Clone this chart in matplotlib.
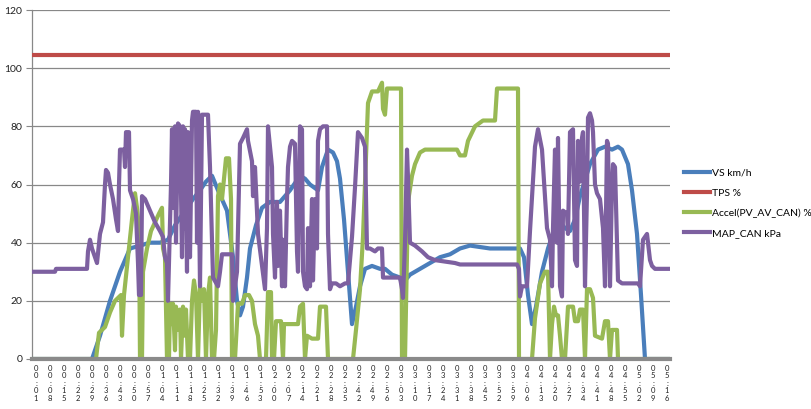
import matplotlib
matplotlib.use("Agg")
import matplotlib.pyplot as plt
import numpy as np

plt.rcParams["font.family"] = ["Lato", "DejaVu Sans"]

# ---------------- data: sample index and value per series ----------------
vs_t = [0, 60, 61, 68, 78, 88, 98, 108, 118, 128,
        136, 143, 153, 161, 168, 174, 180, 186, 195, 201,
        205, 208, 211, 215, 218, 224, 230, 238, 248, 258,
        268, 273, 278, 286, 290, 296, 301, 305, 308, 312,
        316, 320, 324, 328, 333, 340, 348, 353, 360, 368,
        370, 373, 378, 388, 398, 408, 418, 428, 438, 458,
        488, 492, 496, 500, 504, 510, 516, 523, 528, 533,
        538, 543, 548, 558, 566, 573, 580, 586, 590, 596,
        600, 605, 609, 613, 638]
vs_val = [0, 0, 1, 8, 20, 30, 38, 39, 40, 40,
          41, 46, 51, 55, 58, 61, 63, 58, 51, 35,
          20, 15, 18, 28, 38, 46, 52, 54, 54, 58,
          63, 62, 60, 58, 66, 72, 71, 68, 62, 48,
          30, 12, 18, 25, 31, 32, 31, 31, 29, 28,
          26, 27, 29, 31, 33, 35, 36, 38, 39, 38,
          38, 35, 22, 12, 18, 30, 38, 45, 47, 45,
          44, 48, 56, 67, 72, 73, 72, 73, 72, 67,
          58, 43, 22, 0, 0]

tps_t = [0, 638]
tps_val = [104.5, 104.5]

acc_t = [0, 64, 67, 70, 73, 78, 83, 89, 90, 92,
         96, 100, 103, 105, 107, 108, 110, 111, 115, 119,
         123, 127, 130, 131, 133, 135, 137, 138, 140, 141,
         143, 144, 146, 148, 149, 151, 153, 154, 156, 158,
         160, 162, 164, 166, 168, 170, 172, 174, 176, 178,
         180, 182, 184, 186, 188, 190, 192, 194, 197, 199,
         200, 203, 206, 210, 213, 217, 220, 223, 226, 228,
         234, 236, 239, 240, 242, 244, 249, 251, 252, 258,
         266, 268, 271, 273, 275, 280, 286, 288, 294, 296,
         321, 324, 328, 331, 334, 336, 340, 346, 350, 351,
         353, 355, 363, 369, 370, 373, 376, 380, 383, 388,
         393, 418, 425, 428, 433, 436, 443, 451, 463, 465,
         486, 487, 500, 503, 508, 513, 516, 518, 520, 522,
         524, 526, 528, 530, 533, 536, 541, 543, 546, 548,
         551, 553, 555, 558, 561, 563, 570, 573, 576, 578,
         580, 585, 586, 638]
acc_val = [0, 0, 9, 10, 11, 16, 20, 22, 8, 22,
           35, 48, 57, 52, 45, 0, 0, 30, 38, 44,
           47, 50, 52, 38, 35, 0, 0, 19, 12, 19,
           3, 18, 10, 17, 0, 18, 8, 17, 0, 0,
           20, 27, 22, 0, 25, 20, 24, 0, 22, 28,
           0, 0, 10, 56, 60, 55, 62, 69, 69, 55,
           0, 0, 19, 19, 22, 22, 20, 12, 8, 0,
           0, 23, 23, 0, 0, 13, 13, 0, 12, 12,
           12, 18, 19, 0, 8, 7, 7, 18, 18, 0,
           0, 10, 24, 42, 70, 88, 92, 92, 95, 86,
           84, 93, 93, 93, 0, 0, 54, 63, 67, 71,
           72, 72, 72, 70, 70, 75, 80, 82, 82, 93,
           93, 0, 0, 14, 26, 30, 30, 0, 12, 18,
           15, 15, 8, 0, 0, 18, 18, 13, 13, 17,
           17, 0, 24, 24, 21, 8, 7, 13, 13, 0,
           10, 10, 0, 0]

map_t = [0, 23, 24, 55, 56, 58, 60, 63, 65, 68,
         71, 73, 74, 76, 78, 81, 84, 86, 87, 88,
         92, 93, 94, 97, 98, 101, 104, 106, 107, 109,
         110, 113, 118, 123, 128, 131, 133, 135, 136, 139,
         140, 141, 143, 144, 146, 148, 150, 151, 152, 153,
         155, 156, 158, 160, 161, 164, 165, 166, 168, 170,
         173, 176, 178, 181, 186, 188, 190, 200, 201, 205,
         208, 211, 215, 216, 220, 221, 223, 226, 230, 233,
         235, 236, 240, 241, 243, 245, 246, 248, 250, 251,
         253, 255, 256, 258, 260, 263, 265, 266, 268, 270,
         271, 273, 275, 276, 278, 280, 281, 283, 285, 286,
         288, 291, 295, 296, 298, 300, 304, 308, 313, 316,
         320, 323, 326, 330, 333, 335, 338, 343, 346, 350,
         351, 358, 368, 370, 371, 373, 375, 376, 378, 383,
         390, 396, 403, 413, 423, 428, 485, 487, 488, 490,
         495, 498, 503, 506, 510, 515, 518, 520, 521, 523,
         525, 526, 528, 530, 531, 535, 536, 538, 541, 543,
         545, 546, 548, 550, 551, 553, 555, 556, 558, 560,
         561, 563, 565, 568, 571, 573, 575, 576, 578, 580,
         581, 583, 586, 590, 598, 606, 608, 611, 615, 618,
         620, 623, 638]
map_val = [30, 30, 31, 31, 37, 41, 38, 35, 33, 43,
           47, 60, 65, 64, 60, 55, 48, 44, 60, 72,
           72, 66, 78, 78, 58, 55, 50, 33, 22, 22,
           56, 55, 51, 47, 44, 42, 35, 33, 20, 60,
           79, 52, 80, 40, 81, 80, 35, 80, 45, 79,
           30, 78, 35, 82, 85, 85, 40, 85, 25, 84,
           84, 84, 66, 28, 25, 30, 36, 36, 20, 30,
           74, 76, 79, 75, 68, 56, 66, 43, 32, 24,
           45, 80, 66, 43, 28, 54, 32, 51, 25, 41,
           25, 55, 66, 73, 75, 74, 37, 30, 80, 79,
           30, 25, 24, 45, 25, 55, 27, 55, 38, 75,
           79, 80, 80, 43, 24, 26, 26, 25, 26, 26,
           42, 59, 78, 76, 73, 38, 38, 37, 38, 38,
           28, 28, 28, 24, 21, 40, 72, 62, 40, 39,
           37, 35, 34, 33.5, 33, 32.5, 32.5, 31, 21.5, 25,
           25, 44, 73, 79, 72, 45, 41, 25, 45, 72,
           40, 76, 25, 21.5, 51, 50, 43, 78, 79, 34,
           32, 75, 61, 76, 78, 25, 57, 83, 84.5, 82,
           78, 60, 57, 55, 45, 25, 75, 74, 25, 60,
           67, 66, 27, 26, 26, 26, 25, 41, 43, 34,
           32, 31, 31]

tick_labels = ["00:01", "00:08", "00:15", "00:22", "00:29", "00:36",
               "00:43", "00:50", "00:57", "01:04", "01:11", "01:18",
               "01:25", "01:32", "01:39", "01:46", "01:53", "02:00",
               "02:07", "02:14", "02:21", "02:28", "02:35", "02:42",
               "02:49", "02:56", "03:03", "03:10", "03:17", "03:24",
               "03:31", "03:38", "03:45", "03:52", "03:59", "04:06",
               "04:13", "04:20", "04:27", "04:34", "04:41", "04:48",
               "04:55", "05:02", "05:09", "05:16"]

series_names = ["VS km/h", "TPS %", "Accel(PV_AV_CAN) %", "MAP_CAN kPa"]
colors = ["#4A7EBB", "#BE4B48", "#98B954", "#7D60A0"]

# ---------------- figure ----------------
W, H = 812, 409
fig = plt.figure(figsize=(W / 100, H / 100), dpi=100)
ax = fig.add_axes([32 / W, 1 - 359 / H, (670 - 32) / W, (359 - 10) / H])

lw = 3.0
ax.plot(vs_t, vs_val, color=colors[0], lw=lw, label=series_names[0], solid_joinstyle="round", zorder=3)
ax.plot(tps_t, tps_val, color=colors[1], lw=lw, label=series_names[1], zorder=3)
ax.plot(acc_t, acc_val, color=colors[2], lw=lw, label=series_names[2], solid_joinstyle="round", zorder=3)
ax.plot(map_t, map_val, color=colors[3], lw=lw, label=series_names[3], solid_joinstyle="round", zorder=3)

ax.set_xlim(0, 638)
ax.set_ylim(0, 120)
ax.set_yticks(np.arange(0, 121, 20))
ax.tick_params(axis="y", labelsize=7.5, length=4, color="#888888", pad=3, labelcolor="#222222")
ax.yaxis.grid(True, color="#888888", lw=0.9)
ax.set_axisbelow(True)

pos = np.linspace(4, 635, len(tick_labels))
ax.set_xticks(pos)
ax.set_xticklabels(["\n".join(s) for s in tick_labels], fontsize=5.5, linespacing=1.1,
                   color="#222222", va="top")
ax.tick_params(axis="x", length=0, pad=4)

for s in ["top", "right"]:
    ax.spines[s].set_visible(False)
ax.spines["left"].set_color("#888888")
ax.spines["left"].set_linewidth(0.9)
ax.spines["bottom"].set_color("#8a8a8a")
ax.spines["bottom"].set_linewidth(3)
ax.spines["bottom"].set_zorder(4)

fig.legend(loc="upper left", bbox_to_anchor=(684 / W, 1 - 168 / H), frameon=False,
           fontsize=7.5, handlelength=2.5, handletextpad=0.2, labelspacing=1.05,
           borderpad=0, borderaxespad=0)

fig.savefig("out.png", dpi=100)
